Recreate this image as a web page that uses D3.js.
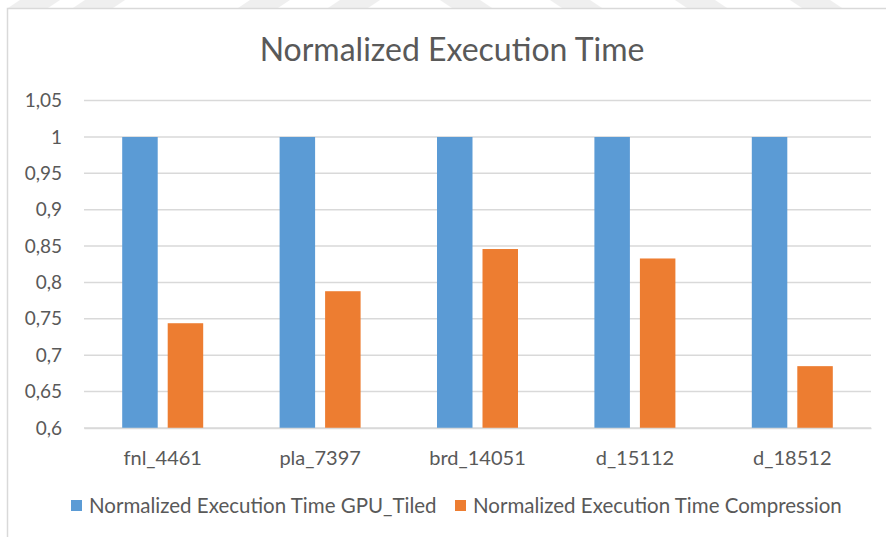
<!DOCTYPE html>
<html><head><meta charset="utf-8">
<script src="https://cdn.jsdelivr.net/npm/d3@7"></script>
<style>body{margin:0;background:#fff;} svg{display:block;font-family:Lato, "Open Sans", sans-serif;}</style>
</head><body>
<svg id="c" width="886" height="537"></svg>
<script>
const categories = ["fnl_4461","pla_7397","brd_14051","d_15112","d_18512"];
const seriesNames = ["Normalized Execution Time GPU_Tiled","Normalized Execution Time Compression"];
const gpuTiled = [1,1,1,1,1];
const compression = [0.744,0.788,0.846,0.833,0.685];
const yTicks = [0.6,0.65,0.7,0.75,0.8,0.85,0.9,0.95,1,1.05];
const colors = ["#5b9bd5","#ed7d31"];

(function(){
const svg = d3.select("#c");
// watermark stripes at top
const stripes = [[20,-1],[85,-1],[250,-1],[340,-1],[440,1],[550,1],[675,1],[790,1]];
svg.selectAll("path.wm").data(stripes).enter().append("path")
  .attr("d",d=>{const x=d[0],s=d[1]*12;return `M${x},0 L${x+40},0 L${x+40+s},8 L${x+s},8 Z`;})
  .attr("fill","#efefef");
// chart frame
svg.append("path").attr("d","M7.5,537 L7.5,8.5 L886,8.5").attr("fill","none").attr("stroke","#d9d9d9").attr("stroke-width",1.5);

const pLeft=84, pRight=871, pTop=100.6, pBottom=428;
const y = d3.scaleLinear().domain([0.6,1.05]).range([pBottom,pTop]);
const x0 = d3.scaleBand().domain(categories).range([pLeft,pRight]);
const bw = 35.5, gap = 10;

// gridlines
svg.append("g").selectAll("line").data(yTicks).enter().append("line")
  .attr("x1",pLeft).attr("x2",pRight).attr("y1",d=>y(d)).attr("y2",d=>y(d))
  .attr("stroke","#d9d9d9").attr("stroke-width",1.5);

// y axis labels
const yAxis = d3.axisLeft(y).tickValues(yTicks).tickSize(0).tickPadding(0)
  .tickFormat(d=>String(+d.toFixed(2)).replace(".",","));
const ga = svg.append("g").attr("transform",`translate(62,0)`).call(yAxis);
ga.select(".domain").remove();
ga.selectAll("text").attr("font-size",19).attr("fill","#595959").attr("font-family","Lato, sans-serif");

// bars
const data = categories.map((c,i)=>({c, v:[gpuTiled[i],compression[i]]}));
const g = svg.append("g");
data.forEach(d=>{
  const cx = x0(d.c)+x0.bandwidth()/2;
  d.v.forEach((v,k)=>{
    const xs = k===0 ? cx-gap/2-bw : cx+gap/2;
    g.append("rect").attr("x",xs).attr("width",bw)
      .attr("y",y(v)).attr("height",y(0.6)-y(v)).attr("fill",colors[k]);
  });
});

// x axis
const xAxis = d3.axisBottom(x0).tickSize(0).tickPadding(0);
const gx = svg.append("g").attr("transform",`translate(0,${pBottom})`).call(xAxis);
gx.select(".domain").attr("stroke","#d9d9d9").attr("stroke-width",1.5);
gx.selectAll("text").attr("font-size",20).attr("fill","#595959").attr("dy",0).attr("y",37).attr("font-family","Lato, sans-serif");

// title
svg.append("text").attr("x",452).attr("y",61).attr("text-anchor","middle")
  .attr("font-size",32).attr("fill","#595959").text("Normalized Execution Time");

// legend
const lg = svg.append("g");
const lx = [71,455];
seriesNames.forEach((n,k)=>{
  lg.append("rect").attr("x",lx[k]).attr("y",500).attr("width",11).attr("height",11).attr("fill",colors[k]);
  lg.append("text").attr("x",lx[k]+18).attr("y",513).attr("font-size",20.5).attr("fill","#595959").text(n);
});
})();
</script>
</body></html>
